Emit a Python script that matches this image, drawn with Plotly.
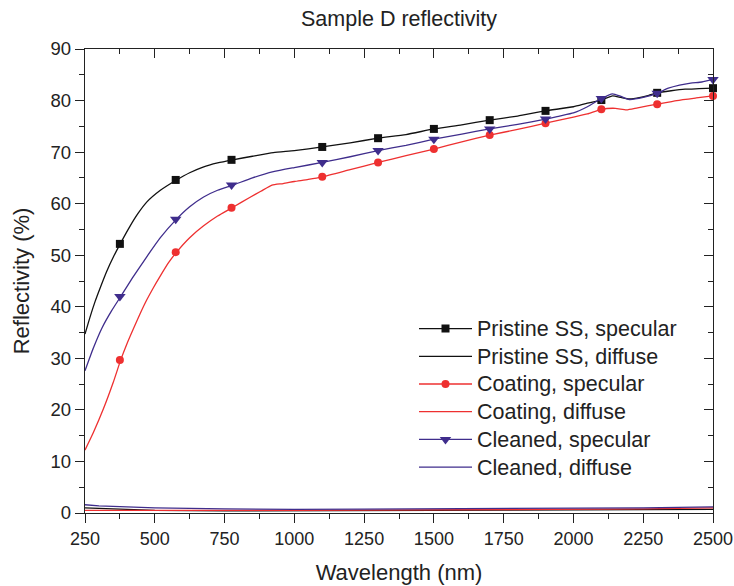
import plotly.graph_objects as go

# ---- data ----
MARK_X = [375, 575, 775, 1100, 1300, 1500, 1700, 1900, 2100, 2300, 2500]

pristine_spec_x = [250, 268, 286, 306, 328, 352, 378, 411, 440, 471, 520, 578, 625, 673, 725, 779,
                   850, 925, 1000, 1100, 1200, 1300, 1400, 1500, 1600, 1700, 1800, 1900, 2000, 2050,
                   2100, 2140, 2170, 2200, 2240, 2270, 2300, 2350, 2400, 2450, 2500]
pristine_spec_y = [34.7, 38.0, 41.0, 43.9, 46.9, 49.7, 52.4, 55.6, 58.1, 60.3, 62.6, 64.6, 66.0, 67.1, 67.9, 68.5,
                   69.2, 69.9, 70.3, 71.0, 71.8, 72.7, 73.4, 74.5, 75.3, 76.2, 77.0, 78.0, 78.8, 79.5,
                   80.1, 80.9, 80.6, 80.3, 80.6, 81.0, 81.5, 81.9, 82.2, 82.3, 82.4]
pristine_spec_mark = [52.2, 64.6, 68.5, 71.0, 72.7, 74.5, 76.2, 78.0, 80.1, 81.5, 82.4]

coating_spec_x = [250, 280, 316, 351, 378, 400, 423, 447, 471, 495, 520, 550, 578, 625, 675, 725, 780,
                  840, 880, 920, 960, 1000, 1050, 1100, 1200, 1300, 1400, 1500, 1600, 1700, 1800, 1900,
                  2000, 2050, 2100, 2150, 2190, 2230, 2300, 2370, 2440, 2500]
coating_spec_y = [12.2, 15.6, 20.2, 25.3, 29.7, 32.8, 35.7, 38.6, 41.3, 43.7, 46.0, 48.6, 50.6, 53.4, 55.7, 57.6, 59.3,
                  61.2, 62.4, 63.6, 63.9, 64.3, 64.7, 65.2, 66.6, 68.0, 69.3, 70.6, 72.0, 73.3, 74.4, 75.6,
                  76.8, 77.4, 78.3, 78.5, 78.2, 78.6, 79.3, 80.0, 80.5, 80.9]
coating_spec_mark = [29.7, 50.6, 59.2, 65.2, 68.0, 70.6, 73.3, 75.6, 78.3, 79.3, 80.9]

cleaned_spec_x = [250, 280, 310, 345, 378, 420, 470, 520, 578, 625, 675, 725, 780, 850, 925,
                  1000, 1100, 1200, 1300, 1400, 1500, 1600, 1700, 1800, 1900, 1950, 2000, 2050, 2100,
                  2140, 2170, 2200, 2250, 2300, 2340, 2380, 2420, 2460, 2500]
cleaned_spec_y = [27.6, 32.0, 35.8, 39.2, 42.0, 45.6, 49.6, 53.4, 57.0, 59.4, 61.3, 62.6, 63.6, 65.0, 66.2,
                  67.0, 68.0, 69.1, 70.3, 71.3, 72.5, 73.5, 74.5, 75.4, 76.4, 77.0, 77.6, 78.8, 80.4,
                  81.3, 80.8, 80.2, 80.6, 81.4, 82.4, 83.0, 83.4, 83.6, 84.1]
cleaned_spec_mark = [42.0, 57.0, 63.6, 68.0, 70.3, 72.5, 74.5, 76.4, 80.4, 81.4, 84.1]

diffuse_x = [250, 300, 400, 500, 750, 1000, 1250, 1500, 1750, 2000, 2250, 2500]
pristine_diff_y = [1.0, 0.9, 0.7, 0.5, 0.4, 0.4, 0.45, 0.5, 0.55, 0.6, 0.65, 0.7]
coating_diff_y = [0.5, 0.5, 0.45, 0.4, 0.45, 0.5, 0.55, 0.6, 0.65, 0.7, 0.8, 1.0]
cleaned_diff_y = [1.6, 1.4, 1.2, 1.0, 0.8, 0.7, 0.75, 0.8, 0.85, 0.9, 1.0, 1.2]

X_TICKS = [250, 500, 750, 1000, 1250, 1500, 1750, 2000, 2250, 2500]
Y_TICKS = [0, 10, 20, 30, 40, 50, 60, 70, 80, 90]

BLACK = "#111111"
RED = "#ee3030"
PURPLE = "#3f2d8c"
FONT = "Liberation Sans, Arial, sans-serif"

fig = go.Figure()

series = [
    ("Pristine SS, specular", pristine_spec_x, pristine_spec_y, pristine_spec_mark, BLACK, "square", 8),
    ("Coating, specular", coating_spec_x, coating_spec_y, coating_spec_mark, RED, "circle", 8),
    ("Cleaned, specular", cleaned_spec_x, cleaned_spec_y, cleaned_spec_mark, PURPLE, "triangle-down", 10),
]
diffuse = [
    ("Pristine SS, diffuse", pristine_diff_y, BLACK),
    ("Coating, diffuse", coating_diff_y, RED),
    ("Cleaned, diffuse", cleaned_diff_y, PURPLE),
]

# curves
for name, y, c in diffuse:
    fig.add_trace(go.Scatter(x=diffuse_x, y=y, mode="lines", line=dict(color=c, width=1.3),
                             showlegend=False, hoverinfo="skip"))
for name, x, y, my, c, sym, ms in series:
    fig.add_trace(go.Scatter(x=x, y=y, mode="lines", line=dict(color=c, width=1.3, shape="spline", smoothing=0.5),
                             showlegend=False))
    fig.add_trace(go.Scatter(x=MARK_X, y=my, mode="markers", cliponaxis=False,
                             marker=dict(color=c, symbol=sym, size=ms), showlegend=False))

# legend entries (text drawn a bit larger than the row spacing font)
def lg(name):
    return '<span style="font-size:21.5px">' + name + "</span>"

legend_order = [series[0], diffuse[0], series[1], diffuse[1], series[2], diffuse[2]]
for item in legend_order:
    if len(item) == 7:
        name, _, _, _, c, sym, ms = item
        fig.add_trace(go.Scatter(x=[None], y=[None], mode="lines+markers", name=lg(name),
                                 line=dict(color=c, width=1.3), marker=dict(color=c, symbol=sym, size=ms)))
    else:
        name, _, c = item
        fig.add_trace(go.Scatter(x=[None], y=[None], mode="lines", name=lg(name), line=dict(color=c, width=1.3)))

# dummy traces for mirrored top/right axes with inside ticks
fig.add_trace(go.Scatter(x=[None], y=[None], xaxis="x2", yaxis="y", showlegend=False))
fig.add_trace(go.Scatter(x=[None], y=[None], xaxis="x", yaxis="y2", showlegend=False))

axis_common = dict(showgrid=False, zeroline=False, showline=True, linecolor="#222", linewidth=1.3,
                   tickcolor="#222", tickwidth=1.2, automargin=False)

fig.update_layout(
    width=734, height=586,
    margin=dict(l=85, r=21, t=49, b=73),
    paper_bgcolor="white", plot_bgcolor="white",
    font=dict(family=FONT, color="#222", size=18),
    title=dict(text="Sample D reflectivity", x=0.5, xref="paper", y=1 - 18 / 586, yanchor="middle",
               font=dict(size=21.5, family=FONT, color="#222")),
    xaxis=dict(range=[250, 2500], tickvals=X_TICKS, ticks="outside", ticklen=9,
               minor=dict(dtick=125, tick0=250, ticks="outside", ticklen=5, tickcolor="#222", tickwidth=1.2),
               title=dict(text="Wavelength (nm)", font=dict(size=22), standoff=16),
               tickfont=dict(size=18), ticklabeloverflow="allow", **axis_common),
    yaxis=dict(range=[0, 90], tickvals=Y_TICKS, ticks="outside", ticklen=9,
               minor=dict(dtick=5, tick0=0, ticks="outside", ticklen=5, tickcolor="#222", tickwidth=1.2),
               title=dict(text="Reflectivity (%)", font=dict(size=22), standoff=14),
               tickfont=dict(size=18.5), ticklabeloverflow="allow", **axis_common),
    xaxis2=dict(range=[250, 2500], overlaying="x", side="top", anchor="y", tickvals=X_TICKS,
                ticks="inside", ticklen=9, showticklabels=False,
                minor=dict(dtick=125, tick0=250, ticks="inside", ticklen=5, tickcolor="#222", tickwidth=1.2),
                **axis_common),
    yaxis2=dict(range=[0, 90], overlaying="y", side="right", anchor="x", tickvals=Y_TICKS,
                ticks="inside", ticklen=9, showticklabels=False,
                minor=dict(dtick=5, tick0=0, ticks="inside", ticklen=5, tickcolor="#222", tickwidth=1.2),
                **axis_common),
    legend=dict(x=(414 - 85) / 628, y=0.438, xanchor="left", yanchor="top", bgcolor="rgba(0,0,0,0)",
                font=dict(size=19, family=FONT, color="#222"), tracegroupgap=0, itemwidth=53),
    showlegend=True,
)

fig.write_html("out.html")
